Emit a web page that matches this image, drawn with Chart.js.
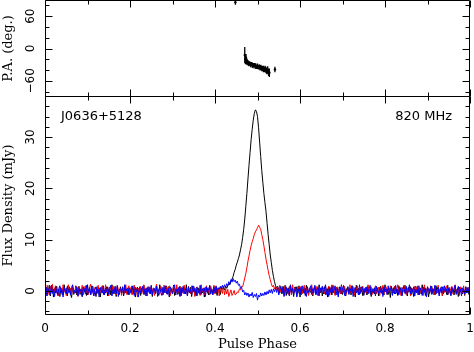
<!DOCTYPE html>
<html>
<head>
<meta charset="utf-8">
<script src="https://cdn.jsdelivr.net/npm/chart.js@4/dist/chart.umd.min.js"></script>
<style>
  html, body { margin: 0; padding: 0; background: #fff; }
  #wrap { position: relative; width: 474px; height: 352px; }
  canvas { position: absolute; left: 0; top: 0; }
</style>
</head>
<body>
<div id="wrap">
  <canvas id="flux" width="474" height="352"></canvas>
  <canvas id="pa" width="474" height="352"></canvas>
</div>
<script>
// ---------------- data ----------------
const binWidth = 0.0025;   // phase bin width (401 bins from 0 to 1)

// Total intensity (black), mJy
const totalI = [
 0.4,-0.9,0.7,-0.3,1.1,-1.0,0.2,0.8,-1.2,0.5,
 -0.4,0.9,-0.7,0.3,-1.1,0.6,0.0,-0.8,1.2,-0.3,
 0.5,-1.0,0.4,0.8,-0.6,-1.3,0.7,0.1,-0.4,1.0,
 -0.8,0.3,0.9,-0.7,0.4,-1.1,0.8,-0.2,0.5,-0.9,
 1.2,-0.4,0.3,-0.8,0.6,0.9,-0.5,0.0,-1.1,0.8,
 -0.3,0.5,-1.2,0.4,1.0,-0.7,0.1,-0.4,0.8,-1.0,
 0.3,0.7,-0.8,1.2,-0.2,-0.6,0.9,-1.1,0.4,0.1,
 -0.7,0.8,-0.3,0.5,-1.0,1.1,-0.4,0.3,0.6,-0.8,
 0.4,-0.2,0.9,-0.6,1.0,-1.2,0.2,0.7,-0.5,0.3,
 -0.9,0.6,-0.1,1.1,-0.7,0.4,-1.0,0.8,0.0,-0.5,
 0.7,-1.1,0.5,0.2,-0.6,0.9,-0.3,-0.9,1.2,-0.2,
 0.6,-0.8,0.3,-0.4,1.0,-0.6,0.8,-1.2,0.4,0.2,
 -0.5,1.1,-0.9,0.3,0.6,-0.7,0.0,0.9,-1.0,0.5,
 -0.2,0.8,-0.6,1.2,-0.8,0.3,-0.3,0.7,-1.1,0.4,
 0.9,-0.5,0.2,-1.0,0.6,0.1,-0.7,1.0,-0.4,0.3,
 -1.2,0.7,-0.1,0.5,-0.8,1.1,-0.3,0.4,-0.6,0.9,
 -0.4,0.2,-0.9,0.6,0.1,-0.7,0.8,0.3,
 0.6,0.2,0.9,0.5,1.0,1.4,1.2,1.9,2.3,2.8,
 3.6,4.2,5.0,5.6,6.3,7.0,8.0,9.0,10.4,12.0,
 14.0,16.5,19.0,21.8,24.5,27.0,29.5,31.5,33.3,34.6,
 35.3,35.0,34.0,31.8,29.0,26.2,23.5,21.2,19.0,17.2,
 15.5,13.2,11.0,9.0,7.0,5.5,4.0,2.8,1.8,1.0,
 0.6,0.9,0.2,-0.4,0.5,
 -0.6,0.9,-0.3,1.1,-0.9,0.2,0.6,-0.8,1.2,-0.2,
 0.4,-1.1,0.7,-0.1,0.8,-0.5,1.0,-1.2,0.3,0.5,
 -0.4,0.7,-0.9,1.1,0.0,-0.7,0.4,-0.3,0.8,-1.0,
 0.5,0.9,-0.6,0.1,-0.8,1.2,-0.4,0.6,-1.0,0.3,
 0.8,-0.7,0.4,-1.2,0.9,-0.1,0.5,-0.8,1.1,-0.3,
 -0.6,0.7,0.2,-0.9,0.8,-0.4,1.2,-0.7,0.1,0.5,
 -1.0,0.4,0.8,-0.3,0.6,-0.8,1.0,-0.5,0.3,-1.2,
 1.1,-0.1,0.5,-0.7,0.4,0.8,-0.9,0.3,-0.4,0.7,
 -0.8,0.9,-0.3,0.5,-1.1,0.4,0.2,-0.6,0.8,-0.4,
 0.6,-1.0,0.3,0.9,-0.5,0.1,-0.8,1.2,-0.2,0.4,
 -0.7,0.5,-1.3,0.8,0.2,-0.4,0.9,-0.6,0.3,-0.9,
 1.0,-0.3,0.6,-0.8,0.4,1.1,-0.5,0.0,-1.0,0.7,
 -0.2,0.8,-0.7,0.3,-1.1,0.6,0.9,-0.4,0.2,-0.8,
 0.5,-0.6,1.2,-0.3,0.7,-0.9,0.1,0.6,-1.2,0.4,
 -0.1,0.9,-0.5,0.3,-0.8,1.0,-0.4,0.7,-0.6,0.2,
 0.8,-1.0,0.4,-0.2,0.6,-0.7,1.1,-0.5,0.3,-0.9,
 0.5,0.1,-0.8,0.9,-0.3,0.4,-1.1,0.7,-0.2,0.6,
 -0.6,0.3,-0.9,0.8,-0.4,0.5,-0.7,0.2
];

// Linear polarization (red), mJy
const linearL = [
 0.7,-0.5,1.1,0.1,-0.8,0.9,-0.2,1.3,-0.6,0.4,
 1.0,-0.4,0.3,-1.0,0.8,0.5,-0.7,1.2,-0.1,0.4,
 -0.9,0.7,1.2,-0.3,0.5,-0.8,1.0,0.0,-0.5,0.9,
 0.4,-1.1,0.7,0.3,-0.4,1.1,-0.8,0.6,1.0,-0.3,
 0.2,-0.7,0.8,1.3,-0.5,0.4,-0.9,0.7,0.3,-0.2,
 1.1,-0.8,0.5,-0.4,1.0,0.2,-0.6,1.2,-0.3,0.7,
 -1.0,0.8,0.4,-0.5,1.0,-0.1,0.7,-0.8,1.1,0.3,
 -0.4,0.6,-0.9,0.8,0.2,-0.5,1.2,-0.7,0.4,1.0,
 -0.3,0.7,-0.8,0.3,1.1,-0.4,0.6,-1.2,0.5,-0.1,
 0.9,-0.6,0.4,1.2,-0.3,0.6,-1.0,0.8,0.1,-0.5,
 1.0,-0.2,0.6,-0.9,0.5,1.3,-0.4,0.2,-0.7,0.9,
 0.3,-0.8,1.1,-0.1,0.7,-0.6,0.4,1.0,-0.9,0.5,
 -0.3,0.9,0.2,-0.7,1.2,-0.4,0.6,-1.0,0.8,0.3,
 -0.5,1.1,-0.2,0.4,-0.8,0.9,0.1,-0.6,1.0,-0.3,
 0.7,-1.1,0.5,0.8,-0.4,0.2,-0.9,1.2,-0.2,0.6,
 -0.7,0.4,1.0,-0.5,0.3,-0.8,0.9,0.1,-0.4,1.1,
 -0.6,0.8,-0.3,0.5,-1.0,0.7,0.2,-0.5,0.9,-0.8,
 0.4,-0.6,0.3,-1.1,-0.4,0.2,-0.9,-0.5,0.1,-0.8,
 -0.6,-0.2,
 -0.3,0.4,0.2,0.9,0.8,1.6,2.5,3.4,4.5,5.8,
 6.8,7.9,8.8,9.6,10.2,11.0,11.5,11.9,12.3,12.8,
 12.4,12.0,11.0,10.0,8.8,7.5,6.2,5.1,4.0,3.0,
 2.2,1.4,0.8,1.1,0.4,0.9,0.2,
 0.8,-0.5,1.1,-0.2,0.6,0.3,-0.9,1.0,-0.1,0.5,
 -0.7,0.9,0.2,-0.8,1.2,-0.4,0.6,0.1,-1.0,0.8,
 0.5,-0.3,0.9,-0.6,0.4,1.1,-0.5,0.1,0.8,-0.9,
 0.6,-0.1,1.2,-0.8,0.2,0.5,-0.4,0.9,-1.0,0.7,
 0.4,-0.3,0.8,0.1,-0.6,1.0,-0.5,0.3,0.9,-0.8,
 0.5,1.2,-0.4,0.7,-0.9,0.2,0.8,-0.1,0.4,-0.6,
 1.0,-0.3,0.5,0.9,-0.8,0.1,0.6,-0.5,1.2,-0.4,
 0.3,0.8,-0.9,0.5,-0.1,1.0,-0.6,0.4,0.7,-0.2,
 0.9,-0.8,0.2,0.5,-0.4,1.2,-0.5,0.3,0.8,-0.7,
 0.4,-0.2,1.0,-0.6,0.3,0.7,-0.9,0.6,-0.1,1.1,
 -0.5,0.2,0.8,-0.7,0.5,-0.3,1.0,0.1,-0.8,0.6,
 0.9,-0.4,0.3,1.2,-0.6,0.4,-0.9,0.7,0.2,-0.3,
 1.1,-0.7,0.5,-0.2,0.8,-1.0,0.6,0.3,-0.5,0.9,
 -0.1,0.7,-0.8,1.0,0.4,-0.4,0.6,-0.9,1.2,0.2,
 -0.6,0.8,0.3,-0.5,1.0,-0.2,0.5,-0.8,0.9,0.1,
 -0.4,1.1,-0.7,0.4,0.6,-0.9,0.8,-0.3,0.5,1.0,
 -0.8,0.3,0.7,-0.2,0.9,-0.6,0.4,1.2,-0.5,0.2,
 0.6,-0.9,0.8,0.1,-0.4,1.0,-0.7,0.5,0.3,-0.2,
 0.7,-0.4
];

// Circular polarization (blue), mJy
const circularV = [
 -0.3,0.7,-1.0,0.4,0.1,-0.7,1.1,-0.5,0.3,-1.1,
 0.8,-0.2,-0.9,0.5,1.0,-0.4,0.2,-1.2,0.7,0.0,
 -0.6,0.9,-0.3,0.4,-0.8,0.7,1.2,-0.7,0.1,-0.4,
 0.8,-1.0,0.5,-0.1,0.3,-1.1,0.7,0.4,-0.6,1.1,
 -0.8,0.2,0.6,-0.7,1.0,-0.3,-1.0,0.4,0.8,-0.5,
 0.3,-1.2,0.7,0.1,-0.4,1.0,-0.8,0.5,-0.2,0.8,
 -0.7,0.4,1.1,-1.0,0.3,-0.3,0.7,-0.6,1.0,-1.1,
 0.2,0.5,-0.4,0.8,-0.8,1.2,-0.1,0.4,-0.7,0.6,
 0.3,-0.5,1.0,0.4,-0.9,0.7,-0.2,0.5,-1.2,0.8,
 -0.4,0.1,0.9,-0.7,0.4,-1.0,0.6,-0.3,0.8,-0.6,
 1.1,-0.8,0.2,0.5,-0.5,0.9,-1.1,0.3,0.6,-0.2,
 -0.9,0.7,-0.4,1.0,0.0,-0.7,0.5,-1.0,0.8,0.2,
 -0.6,0.4,1.2,-0.8,0.3,-0.2,0.7,-1.1,0.5,-0.3,
 0.9,-0.6,0.1,0.6,-1.0,0.8,-0.4,0.3,-0.8,1.0,
 -0.2,0.5,-0.9,0.7,0.2,-0.5,1.1,-0.7,0.4,-0.1,
 0.6,-1.1,0.8,-0.3,0.5,0.9,-0.6,0.2,-0.8,0.7,
 -0.4,1.0,-0.2,0.6,0.3,0.9,0.4,1.1,
 0.5,1.2,0.7,1.4,1.0,1.8,1.3,2.2,1.7,2.4,
 1.8,2.1,1.5,1.9,1.1,1.3,0.5,0.7,-0.2,0.1,
 -0.8,-0.3,-0.9,-0.4,-1.2,-0.6,-1.0,-0.3,-1.3,-0.7,
 -1.1,-0.5,-1.8,-0.8,-1.2,-0.4,-1.0,-0.5,-0.9,-0.2,
 -0.8,-0.1,-0.6,0.2,-0.4,0.3,-0.5,0.4,-0.2,0.6,
 -0.3,
 0.5,-0.8,0.3,0.9,-0.4,0.7,-1.1,0.2,0.8,-0.5,
 0.4,-1.0,1.1,-0.3,0.5,-0.7,0.1,0.8,-1.2,0.4,
 -0.1,0.7,-0.8,1.0,0.3,-0.5,0.5,-1.1,0.8,-0.3,
 0.2,1.0,-0.7,0.4,-0.4,1.1,-0.8,0.3,0.7,-1.0,
 0.6,-0.2,0.9,-0.6,0.3,1.2,-0.7,0.4,-1.1,0.7,
 -0.3,0.8,-0.4,0.1,1.0,-0.8,0.5,-1.2,0.3,0.7,
 -0.6,0.4,1.1,-0.9,0.2,-0.3,0.8,-0.7,0.5,-0.1,
 1.0,-1.1,0.4,0.7,-0.4,0.3,-0.8,1.2,-0.5,0.2,
 0.7,-0.9,0.5,-0.2,0.8,-0.6,0.4,1.1,-0.8,0.3,
 -0.4,0.6,-1.0,0.9,0.1,-0.5,0.7,-0.3,0.5,-1.1,
 0.8,-0.2,0.4,-0.7,1.0,-0.4,0.2,0.9,-0.9,0.5,
 -0.6,1.1,-0.3,0.3,-0.8,0.7,0.0,-1.0,0.6,0.4,
 -0.5,0.9,-0.7,0.2,1.2,-0.6,0.5,-0.2,0.8,-1.0,
 0.3,-0.4,1.0,-0.8,0.6,0.1,-0.9,0.7,-0.3,0.5,
 -1.2,0.8,0.2,-0.5,0.9,-0.7,0.4,-0.1,1.1,-0.6,
 0.3,0.7,-1.0,0.5,-0.4,0.8,-0.6,1.0,-0.2,0.4,
 -0.8,0.6,0.1,-0.9,0.7,-0.3,0.5,1.1,-0.7,0.2,
 0.9,-0.5,0.3,-1.0,0.6,0.2,-0.6,0.8,-0.4,0.7,
 -0.3,0.5
];

// Position angle (deg) with errors
const paPhase = [0.448,0.470,0.4715,0.473,0.4745,0.476,0.478,0.480,0.482,0.484,0.486,0.488,0.490,0.492,0.494,0.496,0.498,0.500,0.502,0.504,0.506,0.508,0.510,0.512,0.514,0.516,0.518,0.520,0.522,0.524,0.526,0.528,0.541];
const paValue = [86,-12,-20,-17,-24,-25,-27,-28,-28,-30,-29,-31,-31,-32,-31,-33,-34,-33,-35,-34,-36,-35,-37,-37,-38,-39,-38,-40,-42,-40,-44,-45,-39];
const paError = [5,15,9,7,6,5,5,5,4,5,4,5,4,5,4,5,4,5,4,5,5,5,5,5,6,5,6,6,6,7,7,8,5];

// Axis ticks
const phaseTicks = [0, 0.2, 0.4, 0.6, 0.8, 1];
const phaseMinor = [0.1, 0.3, 0.5, 0.7, 0.9];
const paTicks = [-60, 0, 60];
const paMinor = [-80, -40, -20, 20, 40, 80];
const fluxTicks = [0, 10, 20, 30];
const fluxMinor = [-4, -2, 2, 4, 6, 8, 12, 14, 16, 18, 22, 24, 26, 28, 32, 34, 36];

const sourceName = 'J0636+5128';
const freqLabel = '820 MHz';

// ---------------- helpers ----------------
const toXY = arr => arr.map((v, i) => ({ x: i * binWidth, y: v }));
const paBars = [];
paPhase.forEach((p, i) => {
  paBars.push({ x: p, y: paValue[i] - paError[i] }, { x: p, y: paValue[i] + paError[i] }, { x: null, y: null });
});
const paPts = paPhase.map((p, i) => ({ x: p, y: paValue[i] }));

const fmtMinus = v => (v < 0 ? '\u2212' + Math.abs(v) : String(v));
const noPad = s => { s.paddingLeft = 0; s.paddingRight = 0; s.paddingTop = 0; s.paddingBottom = 0; };

function frameTicks(yMaj, yMin) {
  return {
    id: 'frameTicks',
    afterDraw(chart) {
      const { ctx, chartArea: a, scales } = chart;
      const x = scales.x, y = scales.y;
      const L = Math.round(a.left) + 0.5, R = Math.round(a.right) - 0.5;
      const T = Math.floor(a.top) + 0.5, B = Math.ceil(a.bottom) - 0.5;
      ctx.save();
      ctx.strokeStyle = '#000';
      ctx.lineWidth = 1;
      ctx.beginPath();
      ctx.rect(L, T, R - L, B - T);
      const xt = (v, len) => {
        const p = Math.round(x.getPixelForValue(v)) + 0.5;
        ctx.moveTo(p, T); ctx.lineTo(p, T + len);
        ctx.moveTo(p, B); ctx.lineTo(p, B - len);
      };
      const yt = (v, len) => {
        const p = Math.round(y.getPixelForValue(v)) + 0.5;
        ctx.moveTo(L, p); ctx.lineTo(L + len, p);
        ctx.moveTo(R, p); ctx.lineTo(R - len, p);
      };
      phaseTicks.forEach(v => xt(v, 7));
      phaseMinor.forEach(v => xt(v, 4));
      yMaj.forEach(v => yt(v, 7));
      yMin.forEach(v => yt(v, 4));
      ctx.stroke();
      ctx.restore();
    }
  };
}

const labelsPlugin = {
  id: 'labels',
  afterDraw(chart) {
    const { ctx, chartArea: a } = chart;
    ctx.save();
    ctx.fillStyle = '#000';
    ctx.font = '13px "DejaVu Sans"';
    ctx.textBaseline = 'alphabetic';
    ctx.textAlign = 'left';
    ctx.fillText(sourceName, a.left + 16, 119.5);
    ctx.textAlign = 'right';
    ctx.fillText(freqLabel, a.right - 18, 119.5);
    ctx.restore();
  }
};

const common = {
  responsive: false,
  animation: false,
  events: [],
  plugins: { legend: { display: false }, tooltip: { enabled: false } },
};

// ---------------- bottom panel: flux ----------------
new Chart(document.getElementById('flux'), {
  type: 'line',
  data: {
    datasets: [
      { data: toXY(totalI), borderColor: '#000000', borderWidth: 1, pointRadius: 0, order: 2 },
      { data: toXY(linearL), borderColor: '#ff0000', borderWidth: 1, pointRadius: 0, order: 1 },
      { data: toXY(circularV), borderColor: '#0000ff', borderWidth: 1, pointRadius: 0, order: 0 }
    ]
  },
  options: {
    ...common,
    layout: { autoPadding: false, padding: { top: 96, right: 4, left: 0, bottom: 0 } },
    scales: {
      x: {
        type: 'linear', min: 0, max: 1,
        grid: { display: false, drawTicks: false },
        border: { display: false },
        afterBuildTicks: s => { s.ticks = phaseTicks.map(v => ({ value: v })); },
        afterFit: s => { s.height = 37; noPad(s); },
        ticks: {
          color: '#000', font: { family: 'DejaVu Sans', size: 12 },
          padding: 7, maxRotation: 0, minRotation: 0, autoSkip: false,
          callback: v => String(v)
        },
        title: {
          display: true, text: 'Pulse Phase', color: '#000',
          font: { family: 'DejaVu Serif', size: 13 },
          padding: { top: 0, bottom: 0 }
        }
      },
      y: {
        type: 'linear', min: -4.7, max: 38,
        grid: { display: false, drawTicks: false },
        border: { display: false },
        afterBuildTicks: s => { s.ticks = fluxTicks.map(v => ({ value: v })); },
        afterFit: s => { s.width = 45; noPad(s); },
        ticks: {
          color: '#000', font: { family: 'DejaVu Sans', size: 12 },
          minRotation: 90, maxRotation: 90, crossAlign: 'center', padding: 6,
          callback: v => fmtMinus(v)
        },
        title: {
          display: true, text: 'Flux Density (mJy)', color: '#000',
          font: { family: 'DejaVu Serif', size: 13 },
          padding: { top: 1, bottom: 0 }
        }
      }
    }
  },
  plugins: [frameTicks(fluxTicks, fluxMinor), labelsPlugin]
});

// ---------------- top panel: PA ----------------
new Chart(document.getElementById('pa'), {
  type: 'line',
  data: {
    datasets: [
      { data: paBars, borderColor: '#000', borderWidth: 1.3, pointRadius: 0, spanGaps: false },
      { data: paPts, showLine: false, borderColor: '#000', backgroundColor: '#000', pointRadius: 1.2, pointBorderWidth: 0 }
    ]
  },
  options: {
    ...common,
    layout: { autoPadding: false, padding: { top: 0, right: 4, left: 0, bottom: 255 } },
    scales: {
      x: { type: 'linear', min: 0, max: 1, display: false, afterFit: s => noPad(s) },
      y: {
        type: 'linear', min: -90, max: 90,
        grid: { display: false, drawTicks: false },
        border: { display: false },
        afterBuildTicks: s => { s.ticks = paTicks.map(v => ({ value: v })); },
        afterFit: s => { s.width = 45; noPad(s); },
        ticks: {
          color: '#000', font: { family: 'DejaVu Sans', size: 12 },
          minRotation: 90, maxRotation: 90, crossAlign: 'center', padding: 1,
          callback: v => fmtMinus(v)
        },
        title: {
          display: true, text: 'P.A. (deg.)', color: '#000',
          font: { family: 'DejaVu Serif', size: 13 },
          padding: { top: 1, bottom: 0 }
        }
      }
    }
  },
  plugins: [frameTicks(paTicks, paMinor)]
});
</script>
</body>
</html>
